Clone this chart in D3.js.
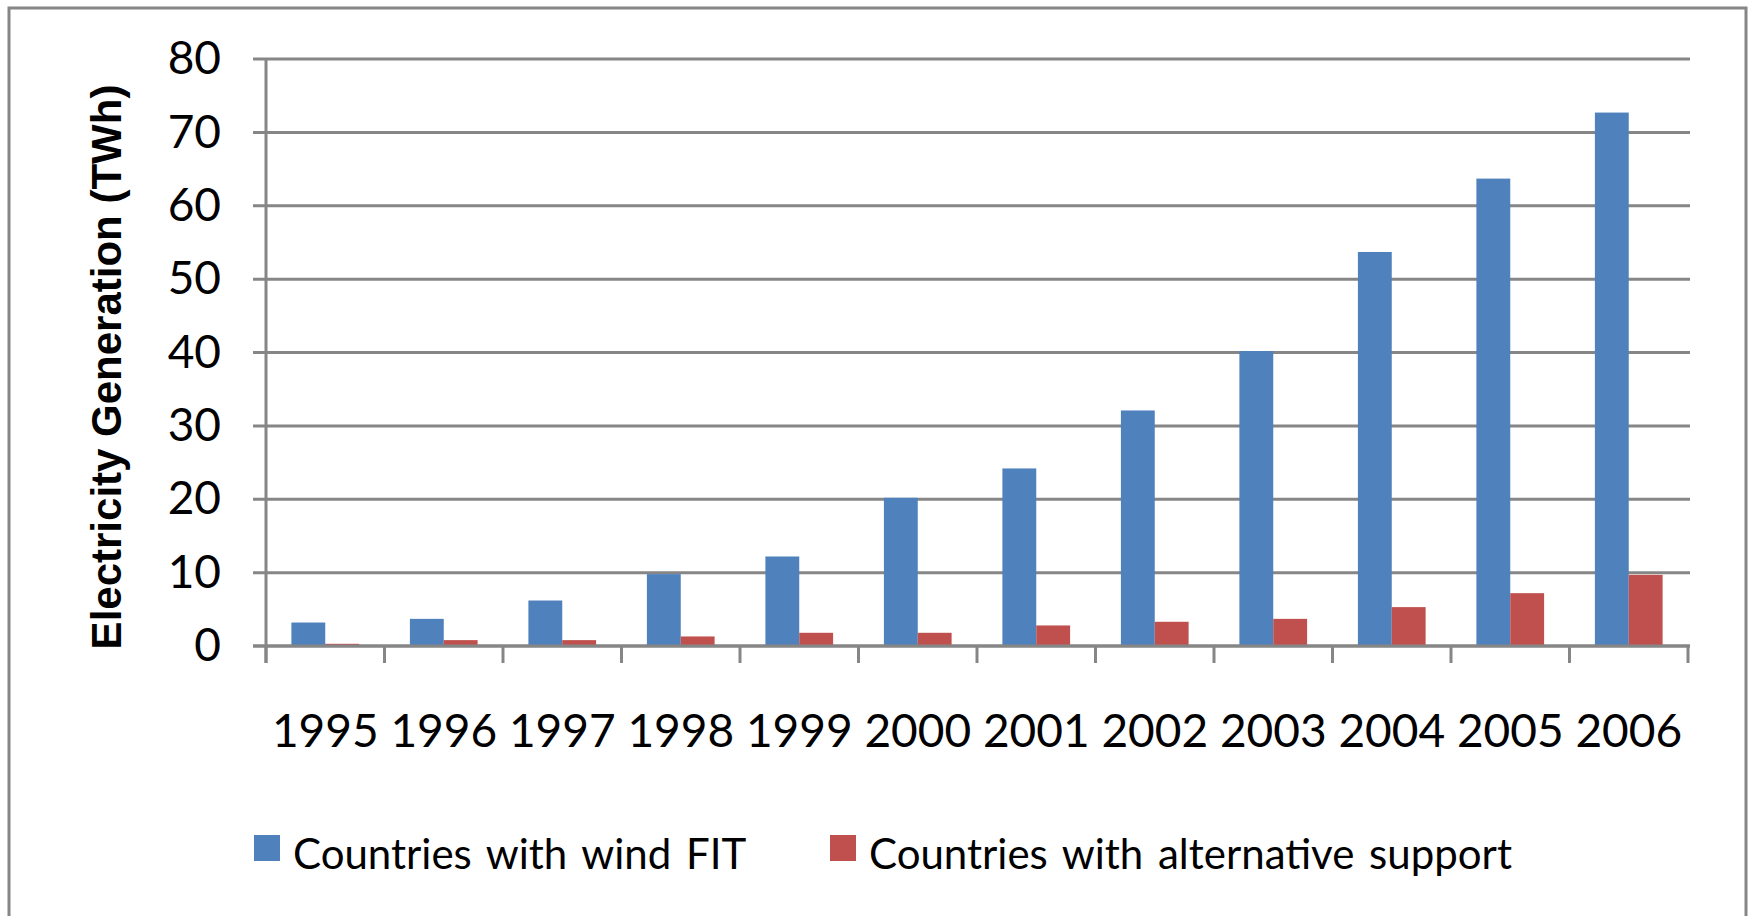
<!DOCTYPE html>
<html>
<head>
<meta charset="utf-8">
<script src="https://cdn.jsdelivr.net/npm/d3@7"></script>
<style>
  html, body { margin: 0; padding: 0; background: #ffffff; }
  svg { display: block; }
</style>
</head>
<body>
<svg id="chart" width="1753" height="916"></svg>
<script>
// ---- data ----
const years = ["1995","1996","1997","1998","1999","2000","2001","2002","2003","2004","2005","2006"];
const seriesNames = ["Countries with wind FIT", "Countries with alternative support"];
const windFIT = [3.2, 3.7, 6.2, 9.8, 12.2, 20.2, 24.2, 32.1, 40.2, 53.7, 63.7, 72.7];
const altSupport = [0.3, 0.8, 0.8, 1.3, 1.8, 1.8, 2.8, 3.3, 3.7, 5.3, 7.2, 9.7];
const yTicks = [0, 10, 20, 30, 40, 50, 60, 70, 80];
const yTitle = "Electricity Generation (TWh)";
const colors = ["#4F81BD", "#C0504D"];

// ---- layout ----
const W = 1753, H = 916;
const plot = { left: 266, right: 1688, top: 59, bottom: 646 };
const gridColor = "#868686";
const font = "Lato, 'Open Sans', sans-serif";

const svg = d3.select("#chart");

// outer frame (bottom edge lies outside the picture)
svg.append("rect")
  .attr("x", 9).attr("y", 8)
  .attr("width", 1737).attr("height", 940)
  .attr("fill", "none").attr("stroke", gridColor).attr("stroke-width", 3);

const y = d3.scaleLinear().domain([0, 80]).range([plot.bottom, plot.top]);
const x0 = d3.scaleBand().domain(years).range([plot.left, plot.right]).padding(0);
const x1 = d3.scaleBand().domain(seriesNames).range([0, x0.bandwidth()])
  .paddingInner(0).paddingOuter(0.75);

// gridlines
svg.append("g").selectAll("line").data(yTicks).join("line")
  .attr("x1", plot.left - 13).attr("x2", plot.right + 2)
  .attr("y1", d => y(d)).attr("y2", d => y(d))
  .attr("stroke", gridColor).attr("stroke-width", 3);

// bars
const rows = years.map((yr, i) => ({ year: yr, values: [windFIT[i], altSupport[i]] }));
const groups = svg.append("g").selectAll("g").data(rows).join("g")
  .attr("transform", d => `translate(${x0(d.year)},0)`);
groups.selectAll("rect")
  .data(d => d.values.map((v, j) => ({ name: seriesNames[j], v, j })))
  .join("rect")
  .attr("x", d => x1(d.name))
  .attr("width", x1.bandwidth())
  .attr("y", d => y(d.v))
  .attr("height", d => y(0) - y(d.v))
  .attr("fill", d => colors[d.j]);

// x axis baseline + boundary ticks
const boundaries = years.map(yr => x0(yr)).concat([x0.range()[1]]);
svg.append("line")
  .attr("x1", plot.left - 13).attr("x2", plot.right + 2)
  .attr("y1", y(0)).attr("y2", y(0))
  .attr("stroke", gridColor).attr("stroke-width", 3);
svg.append("g").selectAll("line").data(boundaries).join("line")
  .attr("x1", d => d).attr("x2", d => d)
  .attr("y1", y(0)).attr("y2", y(0) + 17)
  .attr("stroke", gridColor).attr("stroke-width", 3);

// y axis line
svg.append("line")
  .attr("x1", plot.left).attr("x2", plot.left)
  .attr("y1", plot.top).attr("y2", y(0) + 17)
  .attr("stroke", gridColor).attr("stroke-width", 3);

// y axis labels
const yAxis = svg.append("g")
  .attr("transform", `translate(${plot.left},0)`)
  .call(d3.axisLeft(y).tickValues(yTicks).tickSize(13).tickPadding(32));
yAxis.select(".domain").remove();
yAxis.selectAll(".tick line").remove();
yAxis.selectAll("text")
  .attr("font-family", font).attr("font-size", 46).attr("fill", "#000");

// x axis labels
const xAxis = svg.append("g")
  .attr("transform", `translate(0,${y(0)})`)
  .call(d3.axisBottom(x0).tickSize(0).tickPadding(68));
xAxis.select(".domain").remove();
xAxis.selectAll("text")
  .attr("font-family", font).attr("font-size", 46).attr("fill", "#000");

// y title
svg.append("text")
  .attr("transform", `translate(121,367) rotate(-90)`)
  .attr("text-anchor", "middle")
  .attr("font-family", "'Liberation Sans', Arial, sans-serif")
  .attr("font-weight", "bold")
  .attr("font-size", 42)
  .attr("fill", "#000")
  .text(yTitle);

// legend
const legendX = [254, 830];
const legend = svg.append("g").selectAll("g").data(seriesNames).join("g")
  .attr("transform", (d, i) => `translate(${legendX[i]},835)`);
legend.append("rect")
  .attr("width", 26).attr("height", 26)
  .attr("fill", (d, i) => colors[i]);
legend.append("text")
  .attr("x", 39).attr("y", 34)
  .attr("font-family", font).attr("font-size", 42)
  .attr("word-spacing", 4).attr("fill", "#000")
  .text(d => d);
</script>
</body>
</html>
